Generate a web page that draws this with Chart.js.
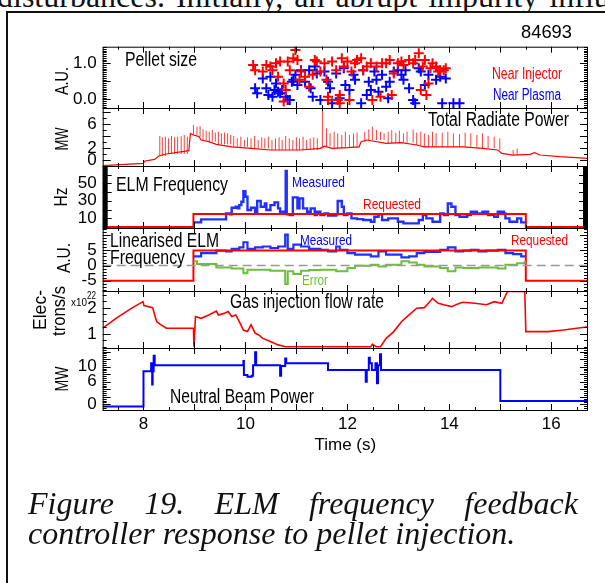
<!DOCTYPE html>
<html>
<head>
<title>ELM frequency feedback - pellet injection</title>
<script src="https://cdn.jsdelivr.net/npm/chart.js"></script>
<style>
  body { margin: 0; background: #fff; }
  #wrap { position: absolute; left: 0; top: 0; width: 605px; height: 583px; }
  .clip { position: absolute; left: 0; top: 0; width: 605px; height: 11px; overflow: hidden; }
  .topline { position: absolute; left: -3px; top: -22px; font: 32px "Liberation Serif", serif; white-space: nowrap; color: #111; word-spacing: 3px; }
  .box { position: absolute; left: 6px; top: 11px; width: 620px; height: 600px; border-top: 2px solid #111; border-left: 2px solid #111; }
  .cap { position: absolute; left: 28px; width: 550px; font: italic 32px/30px "Liberation Serif", serif; color: #111; }
  #cap1 { top: 488px; text-align: justify; text-align-last: justify; }
  #cap2 { top: 518px; white-space: nowrap; }
</style>
</head>
<body>
<div class="clip"><div class="topline">disturbances. Initially, an abrupt impurity influx</div></div>
<div class="box"></div>
<div id="wrap"><canvas id="myChart"></canvas></div>
<div class="cap" id="cap1">Figure 19. ELM frequency feedback</div>
<div class="cap" id="cap2">controller response to pellet injection.</div>

<script>
  // time axis (s)
  const tMin = 7.2;
  const tMax = 16.72;
  const timeTicks = [8, 10, 12, 14, 16];

  // pellet size [t, A.U.]
  const nearInjector = [[10.15,0.95],[10.19,0.81],[10.34,0.77],[10.41,0.95],[10.49,0.91],[10.53,0.81],[10.60,1.00],[10.64,0.63],[10.68,1.05],[10.75,0.44],[10.79,0.26],[10.83,1.05],[10.87,0.81],[10.94,1.14],[10.98,1.37],[11.02,1.09],[11.06,0.54],[11.09,0.77],[11.17,0.63],[11.25,0.35],[11.32,0.68],[11.36,1.09],[11.40,1.05],[11.47,0.77],[11.55,1.00],[11.59,0.54],[11.62,-0.02],[11.70,1.05],[11.78,0.81],[11.81,-0.02],[11.85,0.12],[11.89,1.14],[11.93,0.91],[12.00,1.05],[12.04,-0.02],[12.08,0.77],[12.15,1.00],[12.19,1.09],[12.27,1.14],[12.31,0.81],[12.38,0.91],[12.46,1.00],[12.49,-0.02],[12.57,0.91],[12.65,0.07],[12.68,1.00],[12.76,1.00],[12.83,1.09],[12.87,0.12],[12.91,0.72],[12.99,1.00],[13.06,1.05],[13.10,0.95],[13.21,1.09],[13.29,1.00],[13.33,1.09],[13.40,1.28],[13.44,0.26],[13.48,0.91],[13.52,1.09],[13.55,0.12],[13.59,0.44],[13.63,0.86],[13.67,1.00],[13.74,0.91],[13.78,0.77],[13.82,0.81],[13.89,0.81],[13.93,0.86],[10.75,-0.06],[11.85,-0.11],[11.62,0.07]];
  const nearPlasma = [[10.19,0.31],[10.23,0.17],[10.34,0.58],[10.41,0.31],[10.45,0.12],[10.49,0.63],[10.53,0.07],[10.57,0.26],[10.60,0.44],[10.64,0.21],[10.68,0.17],[10.72,0.26],[10.79,0.07],[10.83,-0.02],[10.87,-0.02],[10.91,0.49],[10.94,0.54],[10.98,0.68],[11.02,0.40],[11.09,0.81],[11.17,0.49],[11.25,0.81],[11.28,0.31],[11.32,0.07],[11.36,0.91],[11.40,0.72],[11.47,-0.02],[11.55,0.77],[11.62,0.49],[11.66,0.31],[11.70,-0.11],[11.78,0.72],[11.85,0.03],[11.93,0.86],[11.96,0.40],[12.04,0.26],[12.12,0.68],[12.15,0.54],[12.27,-0.11],[12.31,0.81],[12.38,0.12],[12.42,0.49],[12.46,0.26],[12.53,0.77],[12.57,0.54],[12.61,0.21],[12.68,0.68],[12.76,0.35],[12.80,0.03],[12.83,0.49],[12.91,0.77],[12.99,0.81],[13.06,0.68],[13.10,0.54],[13.14,0.81],[13.21,0.31],[13.29,-0.02],[13.33,-0.11],[13.40,0.86],[13.44,0.77],[13.52,0.40],[13.59,0.68],[13.74,0.54],[13.82,0.63],[13.93,0.58],[13.86,-0.11],[14.08,-0.11],[14.20,-0.11]];

  // total radiated power (MW): slow level and ELM spike peaks
  const radLevel = [[7.2,-0.94],[7.99,-0.56],[8.03,-0.17],[8.22,0.11],[8.30,0.67],[8.45,1.0],[8.89,1.56],[8.92,4.44],[8.98,4.17],[9.09,3.9],[9.13,3.33],[9.28,3.06],[9.43,2.6],[9.73,2.2],[10.11,1.94],[10.49,1.67],[11.09,1.67],[11.47,1.94],[11.55,2.3],[11.70,1.94],[12.00,2.06],[12.23,2.2],[12.27,3.06],[12.38,3.33],[12.76,2.78],[13.06,2.89],[13.36,2.5],[13.51,2.2],[14.27,2.2],[14.65,1.94],[14.95,1.67],[15.03,1.11],[15.25,0.83],[15.59,0.94],[15.67,1.22],[15.78,0.83],[16.16,0.56],[16.73,0.28]];
  const radSpikes = [[8.32,4.0],[8.37,3.78],[8.43,3.89],[8.49,3.61],[8.55,4.0],[8.61,3.78],[8.67,3.89],[8.74,4.0],[8.80,4.17],[8.86,3.89],[8.98,5.83],[9.05,5.56],[9.11,5.67],[9.17,5.11],[9.23,4.89],[9.29,4.72],[9.35,5.0],[9.41,4.56],[9.47,4.72],[9.53,4.44],[9.59,4.56],[9.65,4.44],[9.71,4.17],[9.77,4.0],[9.84,3.61],[9.91,3.89],[9.98,3.33],[10.04,3.78],[10.11,3.61],[10.18,4.0],[10.25,3.33],[10.32,3.78],[10.38,3.61],[10.45,3.89],[10.52,3.33],[10.59,3.61],[10.66,3.78],[10.72,3.33],[10.79,4.0],[10.86,3.61],[10.93,3.33],[11.00,3.78],[11.06,3.61],[11.13,3.89],[11.20,3.33],[11.27,3.61],[11.34,3.78],[11.41,3.61],[11.51,8.61],[11.59,5.28],[11.66,4.44],[11.74,4.72],[11.81,4.44],[11.89,4.17],[11.96,4.72],[12.04,4.17],[12.12,4.44],[12.19,4.56],[12.34,4.72],[12.42,5.11],[12.49,5.56],[12.57,5.0],[12.65,4.72],[12.72,4.44],[12.80,4.72],[12.87,5.0],[12.95,4.56],[13.02,4.89],[13.10,4.44],[13.17,4.72],[13.29,5.11],[13.36,4.56],[13.44,4.72],[13.51,4.44],[13.59,4.17],[13.67,4.72],[13.74,4.44],[13.86,4.56],[13.97,4.72],[14.08,4.44],[14.20,4.33],[14.31,4.56],[14.42,4.44],[14.54,4.17],[14.65,4.44],[14.76,4.0],[14.88,3.89],[14.99,3.61],[15.25,1.67],[15.33,1.94]];

  // ELM frequency (Hz), each pair = level starting at t
  const requestedHz = [[7.2,0],[8.98,15],[15.5,0],[16.72,0]];
  const measuredHz = [[8.98,5.3],[9.13,8.8],[9.62,15.6],[9.70,14.5],[9.73,22.1],[9.81,23.2],[9.85,21.3],[9.88,25.1],[9.92,29.0],[9.96,41.1],[10.00,34.7],[10.04,19.4],[10.11,22.1],[10.19,17.5],[10.23,29.7],[10.30,23.2],[10.38,27.0],[10.41,19.4],[10.49,25.1],[10.57,28.2],[10.64,21.3],[10.68,17.5],[10.75,15.6],[10.79,64.0],[10.81,14.5],[10.87,13.7],[10.93,33.9],[11.02,21.3],[11.06,32.8],[11.13,21.3],[11.21,17.5],[11.28,21.3],[11.36,13.7],[11.40,17.5],[11.47,13.7],[11.55,15.6],[11.62,13.0],[11.78,14.5],[11.81,29.7],[11.89,23.2],[11.93,13.7],[12.00,15.6],[12.08,9.9],[12.19,9.1],[12.31,8.0],[12.46,6.1],[12.53,11.8],[12.61,14.5],[12.68,8.0],[12.80,9.9],[12.99,6.1],[13.10,4.2],[13.29,4.2],[13.40,8.0],[13.48,13.7],[13.55,9.9],[13.67,6.1],[13.82,15.6],[13.89,13.7],[13.97,27.0],[14.04,23.2],[14.12,13.7],[14.20,11.8],[14.35,13.7],[14.42,17.5],[14.54,15.6],[14.65,17.5],[14.76,13.7],[14.88,11.8],[14.95,17.5],[15.07,15.6],[15.10,9.9],[15.18,6.1],[15.33,9.9],[15.41,5.3],[15.50,4.2]];

  // linearised ELM frequency (A.U.)
  const requestedLin = [[7.2,-5],[8.98,5],[15.5,-5],[16.72,-5]];
  const measuredLin = [[8.98,3.0],[9.13,4.1],[9.43,4.9],[9.62,4.7],[9.73,5.5],[9.88,6.0],[9.96,7.7],[10.04,5.5],[10.19,6.0],[10.34,6.3],[10.49,5.8],[10.64,6.3],[10.78,10.2],[10.83,5.5],[10.94,6.9],[11.09,6.3],[11.25,5.5],[11.47,5.2],[11.62,4.7],[11.78,6.3],[11.85,5.2],[12.00,4.1],[12.15,3.6],[12.46,3.0],[12.61,4.7],[12.76,3.6],[13.06,2.7],[13.21,3.0],[13.36,4.1],[13.51,4.5],[13.82,5.2],[13.97,6.0],[14.12,4.7],[14.27,4.9],[14.42,5.2],[14.57,4.7],[14.73,4.9],[14.95,5.2],[15.10,4.1],[15.25,3.8],[15.41,3.0],[15.48,2.7]];
  const errorLin = [[8.98,1.4],[9.05,0.5],[9.43,-0.6],[9.73,-1.0],[9.96,-2.5],[10.04,-1.4],[10.49,-1.7],[10.78,-6.1],[10.83,-1.9],[10.94,-2.8],[11.09,-1.7],[11.25,-1.5],[11.47,-1.4],[11.78,-1.9],[12.00,-0.8],[12.15,-0.05],[12.46,0.3],[12.61,-0.3],[12.76,0.3],[13.06,1.4],[13.21,1.0],[13.36,0.3],[13.51,-0.3],[13.82,-0.8],[13.97,-1.9],[14.12,-0.6],[14.27,-0.8],[14.57,-0.6],[14.95,-1.0],[15.10,0.3],[15.33,0.8],[15.48,1.6]];

  // gas injection flow rate (x1e22 electrons/s)
  const gasFlow = [[7.20,1.22],[7.46,1.60],[7.77,1.99],[7.99,2.24],[8.01,2.09],[8.18,2.01],[8.22,1.73],[8.26,1.47],[8.33,1.37],[8.45,1.22],[8.98,1.22],[8.99,0.51],[9.02,1.67],[9.13,1.60],[9.28,1.73],[9.43,1.88],[9.47,1.73],[9.58,1.79],[9.66,1.86],[9.73,1.67],[9.81,1.73],[9.88,1.47],[9.96,1.15],[10.04,1.09],[10.11,1.35],[10.19,1.03],[10.26,0.96],[10.34,0.83],[10.49,0.71],[10.64,0.58],[10.79,0.51],[12.46,0.51],[12.49,0.60],[12.57,0.51],[12.65,0.51],[12.76,0.83],[12.91,1.09],[13.06,1.47],[13.21,1.73],[13.36,1.99],[13.51,2.01],[13.59,2.18],[13.67,2.37],[13.78,2.18],[13.89,2.12],[14.04,2.05],[14.20,2.18],[14.27,2.22],[14.50,2.18],[14.73,2.12],[14.88,2.24],[15.03,2.18],[15.14,2.63],[15.48,2.63],[15.50,1.09],[15.94,1.09],[16.24,1.15],[16.73,1.28]];

  // neutral beam power (MW), each pair = level starting at t
  const nbiPower = [[7.2,-0.6],[8.0,8.8],[8.15,10.9],[8.17,5.3],[8.18,8.8],[8.2,12.9],[8.22,10.4],[9.96,11.5],[9.97,7.8],[10.04,7.3],[10.12,7.6],[10.15,10.4],[10.19,13.8],[10.21,10.4],[10.68,7.6],[10.70,10.2],[10.78,12.2],[10.80,10.9],[11.62,9.1],[12.36,6.0],[12.38,9.1],[12.42,12.4],[12.44,10.9],[12.48,9.1],[12.55,10.9],[12.58,5.6],[12.60,10.4],[12.64,13.3],[12.66,9.1],[15.0,0.9],[16.73,1.15]];

  // tick labels per panel
  const ticksPellet = [0, 1];
  const ticksRad = [0, 2, 6];
  const ticksHz = [10, 30, 50];
  const ticksLin = [-5, 0, 5];
  const ticksGas = [1, 2];
  const ticksNbi = [0, 6, 10];

  const sans = '"Liberation Sans", Arial, sans-serif';
  Chart.defaults.font.family = sans;
  Chart.defaults.color = "#000";

  const pts = (arr) => arr.map(([x, y]) => ({ x: x, y: y }));
  const levelAt = (t) => {
    let v = radLevel[0][1];
    for (const [x, y] of radLevel) if (x <= t) v = y;
    return v;
  };
  const spikePts = radSpikes.flatMap(([t, top]) => [
    { x: t, y: levelAt(t) },
    { x: t, y: top },
    { x: t, y: null },
  ]);

  // panel layout: [id, min, max, ticks, height px, minor step, major step]
  const panelDefs = [
    ["yPel", -0.24, 1.46, ticksPellet, 61.3, 0.05, 0.5],
    ["yRad", -1.0, 8.67, ticksRad, 58, 1, 2],
    ["yHz", -1.1, 69.8, ticksHz, 62, 0, 10],
    ["yLin", -8.4, 12.4, ticksLin, 63, 1, 5],
    ["yGas", 0.46, 2.65, ticksGas, 57, 0.25, 1],
    ["yNbi", -1.5, 14.96, ticksNbi, 62, 0.5, 2],
  ];

  const scales = {
    x: {
      type: "linear",
      min: tMin,
      max: tMax,
      offset: false,
      grid: { display: false, drawTicks: false },
      border: { display: false },
      afterBuildTicks: (s) => { s.ticks = timeTicks.map((v) => ({ value: v })); },
      afterFit: (s) => { s.height = 46; },
      ticks: { font: { size: 17 }, padding: 4, maxRotation: 0, autoSkip: false },
      title: { display: true, text: "Time (s)", font: { size: 17 }, padding: 0 },
    },
  };
  panelDefs.forEach(([id, min, max, tk, h], i) => {
    scales[id] = {
      type: "linear",
      position: "left",
      stack: "panels",
      stackWeight: h,
      weight: 10 - i,
      min: min,
      max: max,
      grid: { display: false, drawTicks: false },
      border: { display: false },
      afterBuildTicks: (s) => { s.ticks = tk.map((v) => ({ value: v })); },
      afterFit: (s) => { s.width = 60; },
      ticks: {
        font: { size: 17 },
        padding: 6,
        autoSkip: false,
        callback: (v) => (id === "yPel" ? v.toFixed(1) : String(v)),
      },
    };
  });

  const line = (data, yAxisID, color, width, extra) =>
    Object.assign({ data: data, yAxisID: yAxisID, borderColor: color, borderWidth: width, pointRadius: 0, tension: 0, fill: false }, extra || {});

  const data = {
    datasets: [
      { data: pts(nearInjector), yAxisID: "yPel", showLine: false, pointStyle: "cross", pointRadius: 5, borderColor: "#ff0000", borderWidth: 2 },
      { data: pts(nearPlasma), yAxisID: "yPel", showLine: false, pointStyle: "cross", pointRadius: 5, borderColor: "#0000ff", borderWidth: 2 },
      line(spikePts, "yRad", "rgba(255,0,0,0.75)", 1, { spanGaps: false }),
      line(pts(radLevel), "yRad", "#ff0000", 1.2),
      line(pts(requestedHz), "yHz", "#ff0000", 2, { stepped: true }),
      line(pts(measuredHz), "yHz", "#2030ff", 2.4, { stepped: true }),
      line([{ x: tMin, y: 0 }, { x: tMax, y: 0 }], "yLin", "#999999", 1.5, { borderDash: [9, 5] }),
      line(pts(errorLin), "yLin", "#6cbf3a", 2, { stepped: true }),
      line(pts(requestedLin), "yLin", "#ff0000", 2, { stepped: true }),
      line(pts(measuredLin), "yLin", "#2030ff", 2.2, { stepped: true }),
      line(pts(gasFlow), "yGas", "#ff0000", 1.6),
      line(pts(nbiPower), "yNbi", "#0000ff", 2, { stepped: true }),
    ],
  };

  // in-panel text: [text, x, centre y, size, colour, align, width]
  const notes = [
    ["84693", 572, 33, 19, "#000", "right", 51],
    ["Pellet size", 125, 60, 20, "#000", "left", 72],
    ["Near Injector", 562, 75, 16, "#ff0000", "right", 70],
    ["Near Plasma", 561, 96, 16, "#0000ff", "right", 68],
    ["Total Radiate Power", 569, 120, 20, "#000", "right", 141],
    ["ELM Frequency", 116, 185, 20, "#000", "left", 112],
    ["Measured", 292, 183, 15, "#0000ff", "left", 53],
    ["Requested", 363, 205, 15, "#ff0000", "left", 58],
    ["Linearised ELM", 110, 241, 20, "#000", "left", 109],
    ["Frequency", 110, 258, 20, "#000", "left", 75],
    ["Measured", 300, 241, 15, "#0000ff", "left", 52],
    ["Requested", 568, 241, 15, "#ff0000", "right", 57],
    ["Error", 302, 281, 15, "#6cbf3a", "left", 26],
    ["Gas injection flow rate", 230, 302, 20, "#000", "left", 154],
    ["x10", 71, 303, 11, "#000", "left", 16],
    ["22", 87, 296, 10, "#000", "left", 9],
    ["Neutral Beam Power", 170, 397, 20, "#000", "left", 144],
  ];
  // rotated axis titles: [text, cx, cy, size, length]
  const yTitles = [
    ["A.U.", 63, 81, 19, 28],
    ["MW", 63, 139, 19, 23],
    ["Hz", 62, 197, 19, 19],
    ["A.U.", 65, 258, 19, 30],
    ["Elec-", 41, 310, 19, 40],
    ["trons/s", 60, 311, 19, 50],
    ["MW", 63, 379, 19, 25],
  ];

  function squeezedText(ctx, txt, x, y, size, color, align, width, angle) {
    ctx.save();
    ctx.font = size + "px " + sans;
    ctx.fillStyle = color;
    ctx.textBaseline = "middle";
    ctx.textAlign = align;
    ctx.translate(x, y);
    if (angle) ctx.rotate(angle);
    ctx.scale(width / ctx.measureText(txt).width, 1);
    ctx.fillText(txt, 0, 0);
    ctx.restore();
  }

  const framePlugin = {
    id: "frames",
    afterDatasetsDraw(chart) {
      const { ctx, chartArea: a, scales: sc } = chart;
      const xs = sc.x;
      ctx.save();
      ctx.strokeStyle = "#000";
      ctx.fillStyle = "#000";
      ctx.lineWidth = 1;
      panelDefs.forEach(([id, min, max, tk, h, minor, major]) => {
        const s = sc[id];
        const top = s.top, bot = s.bottom;
        ctx.strokeRect(a.left + 0.5, top + 0.5, a.right - a.left - 1, bot - top);
        ctx.beginPath();
        if (minor > 0) {
          for (let v = Math.ceil(min / minor) * minor; v <= max; v += minor) {
            const y = Math.round(s.getPixelForValue(v)) + 0.5;
            const isMajor = Math.abs(v / major - Math.round(v / major)) < 1e-6;
            const len = isMajor ? 8 : 4;
            ctx.moveTo(a.left, y); ctx.lineTo(a.left + len, y);
            ctx.moveTo(a.right, y); ctx.lineTo(a.right - len, y);
          }
        } else {
          ctx.fillRect(a.left, top, 5, bot - top);
          ctx.fillRect(a.right - 5, top, 5, bot - top);
          for (let v = major; v <= max; v += major) {
            const y = Math.round(s.getPixelForValue(v)) + 0.5;
            ctx.moveTo(a.left, y); ctx.lineTo(a.left + 9, y);
            ctx.moveTo(a.right, y); ctx.lineTo(a.right - 9, y);
          }
        }
        for (let t = 7.5; t <= tMax; t += 0.5) {
          const x = Math.round(xs.getPixelForValue(t)) + 0.5;
          const len = Number.isInteger(t) ? 6 : 3;
          ctx.moveTo(x, top); ctx.lineTo(x, top + len);
          ctx.moveTo(x, bot); ctx.lineTo(x, bot - len);
        }
        ctx.stroke();
      });
      notes.forEach(([txt, x, y, size, color, align, w]) => squeezedText(ctx, txt, x, y, size, color, align, w, 0));
      yTitles.forEach(([txt, cx, cy, size, len]) => squeezedText(ctx, txt, cx, cy, size, "#000", "center", len, -Math.PI / 2));
      ctx.restore();
    },
  };

  const config = {
    type: "line",
    data: data,
    options: {
      responsive: true,
      maintainAspectRatio: false,
      animation: false,
      events: [],
      layout: { padding: { left: 42.7, right: 17, top: 46.7, bottom: 127 } },
      plugins: { legend: { display: false }, tooltip: { enabled: false } },
      scales: scales,
    },
    plugins: [framePlugin],
  };

  const myChart = new Chart(document.getElementById("myChart"), config);
</script>
</body>
</html>
